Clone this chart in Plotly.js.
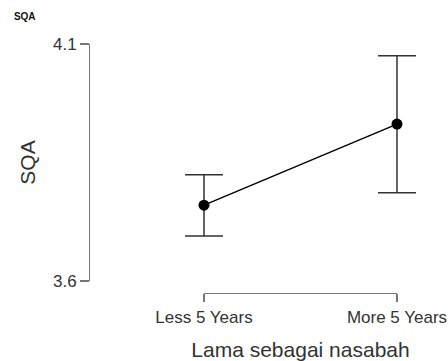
<!DOCTYPE html>
<html>
<head>
<meta charset="utf-8">
<script src="https://cdn.plot.ly/plotly-3.0.1.min.js"></script>
<style>html,body{margin:0;padding:0;background:#fff;}#chart{width:448px;height:361px;}</style>
</head>
<body>
<div id="chart"></div>
<script>
const categories = ['Less 5 Years', 'More 5 Years'];
const means = [3.760, 3.931];
const ciUpper = [0.064, 0.144];
const ciLower = [0.065, 0.145];
const yTicks = [3.6, 4.1];
const yTickText = ['3.6', '4.1'];

// invisible trace so the bracket-style category axis (x2) is drawn
const axisTrace = {
  x: categories, y: [null, null],
  xaxis: 'x2', yaxis: 'y',
  type: 'scatter', mode: 'markers',
  hoverinfo: 'skip', showlegend: false
};

const trace = {
  x: categories,
  y: means,
  type: 'scatter',
  mode: 'lines+markers',
  cliponaxis: false,
  line: {color: '#000', width: 1.5},
  marker: {color: '#000', size: 11},
  error_y: {
    type: 'data', symmetric: false,
    array: ciUpper, arrayminus: ciLower,
    color: '#333', thickness: 1.5, width: 19
  },
  hoverinfo: 'skip'
};

const layout = {
  width: 448, height: 361,
  margin: {l: 89, r: 10, t: 44, b: 68, pad: 0},
  paper_bgcolor: '#fff', plot_bgcolor: 'rgba(0,0,0,0)',
  showlegend: false,
  font: {family: 'Liberation Sans, Arial, sans-serif', color: '#333'},
  title: {
    text: '<b>SQA</b>', x: 0.031, xanchor: 'left', xref: 'container',
    y: 0.953, yanchor: 'middle', yref: 'container',
    font: {size: 10, color: '#111'}
  },
  xaxis: {
    type: 'category',
    domain: [0, 1],
    range: [-115/193, 1 + 41/193],
    anchor: 'y',
    visible: false,
    showgrid: false, zeroline: false
  },
  xaxis2: {
    type: 'category',
    domain: [115/349, 308/349],
    range: [0, 1],
    anchor: 'free', position: 0,
    showline: true, linecolor: '#777', linewidth: 1.4,
    ticks: 'outside', ticklen: 8, tickwidth: 1.4, tickcolor: '#777',
    showgrid: false, zeroline: false,
    tickfont: {size: 17, color: '#333'},
    title: {text: 'Lama sebagai nasabah', font: {size: 21, color: '#333'}, standoff: 16}
  },
  yaxis: {
    domain: [12/249, 1],
    range: [3.6, 4.1],
    anchor: 'free', position: 0,
    tickvals: yTicks, ticktext: yTickText,
    showline: true, linecolor: '#777', linewidth: 1.4,
    ticks: 'outside', ticklen: 9, tickwidth: 1.4, tickcolor: '#777',
    showgrid: false, zeroline: false,
    tickfont: {size: 17, color: '#333'},
    title: {text: 'SQA', font: {size: 21, color: '#333'}, standoff: 10}
  }
};

Plotly.newPlot('chart', [axisTrace, trace], layout, {displayModeBar: false, staticPlot: true});
</script>
</body>
</html>
